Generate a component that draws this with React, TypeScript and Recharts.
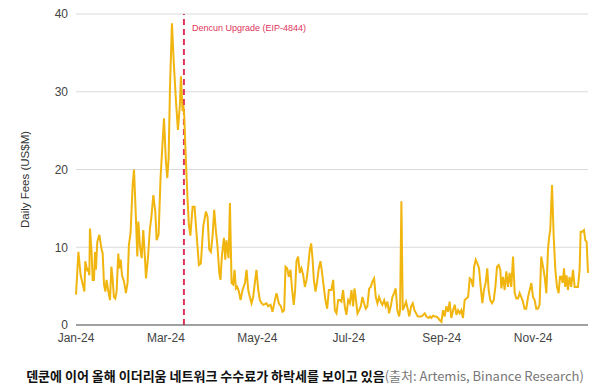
import React from 'react'
import { LineChart, Line, XAxis, YAxis, CartesianGrid, ReferenceLine } from 'recharts'

// day offset from 2024-01-01
const days = [
  0, 1.6, 3.1, 4.9, 5.6, 6.2, 7.6, 8.2, 8.9, 9.3, 10.4, 11.1, 12, 12.7, 13.3, 14.2, 15.6, 16.9, 17.8, 18.7,
  19.6, 20.4, 21.6, 22.7, 23.6, 24.4, 25.3, 26.2, 27.1, 28.2, 28.9, 29.8, 30.7, 32, 33.3, 34.4, 35.3, 36.4, 37.8, 38.7,
  40, 40.9, 41.6, 42.7, 43.8, 44.9, 46, 46.7, 48, 49.3, 50.2, 51.6, 52.9, 53.8, 55.1,
  56.4, 58.7, 60, 60.9, 61.8, 62.7, 64, 65.3, 66.7, 68, 69.3, 70, 71.1, 71.6, 72.2, 73.1, 73.8, 74.4, 75.3,
  76.3, 77.8, 79.1, 80.4, 82, 83.3, 84.9, 86.7, 87.8, 88.9, 90, 91.1, 92.2, 93.3, 94.4, 95.6, 96.4, 97.3, 98.7, 99.6,
  100.4, 101.8, 102.7, 103.8, 104.9, 105.8, 106.7, 107.6, 108.7, 109.8, 111.1, 112.7, 113.8, 114.9, 116, 117.1, 118.2, 119.3, 120.4, 121.6,
  122.7, 123.8, 124.9, 127.1, 128.2, 129.8, 131.1, 132.7, 133.8, 135.3,
  136.7, 137.8, 138.9, 139.8, 140.9, 142, 143.1, 144.2, 145.3, 146.2, 147.1, 148.2, 149.3, 150.4, 151.6, 152.7, 153.8, 154.9, 156, 156.9,
  157.8, 158.7, 159.8, 160.9, 162, 163.1, 164.2, 165.3, 166.4, 167.6, 168.7,
  170.4, 171.6, 172.7, 173.8, 174.9, 176, 177.1, 178.2, 179.3, 180.4, 181.6, 182.7, 183.8, 184.9, 185.8, 186.7, 187.8, 188.9, 190, 191.1,
  192.2, 193.3, 194.4, 195.6, 196.7, 197.8, 198.9, 200, 201.1, 202.2, 203.3, 204.4, 205.6, 206.7, 207.8, 208.9, 210, 211.1, 212.2, 213.3,
  214.4, 215.6, 216.2, 217.1, 218, 219.1, 220.2, 221.3, 222.4, 223.6, 224.7, 225.8, 226.9, 228, 229.1, 230.4, 231.6, 232.7, 233.8, 235.3,
  236.2, 237.1, 238.2, 239.3, 240.4, 241.6, 242.7, 243.8, 244.9, 246, 247.1, 248.2, 249.3, 250.4, 251.6, 252.7, 253.8, 254.9, 256, 257.1,
  258.2, 259.3, 260.4, 261.6, 262.7, 263.8, 264.9, 265.6, 266.7, 267.8, 268.9, 270, 271.1, 272.2, 273.3, 274.4, 275.3, 276.4, 277.6, 278.7,
  279.8, 280.9, 282, 283.1, 283.8, 284.9, 286,
  287.1, 288.2, 289.3, 290.4, 291.6, 292.7, 293.8, 294.9, 296, 297.1, 298.2, 299.3, 300.4, 301.6, 302.7, 303.8, 304.9, 306, 307.1, 308.2,
  309.3, 310.4, 311.6, 312.7, 313.8, 314.9, 315.6, 316.4, 317.6, 318.7, 319.8, 320.9, 322, 322.9, 323.8, 324.7, 325.6, 326.4, 327.3, 328.2,
  329.3, 330.4, 331.6, 332.7, 333.8, 334.9, 336, 336.7, 337.8, 338.9, 339.8, 340.7, 341.6,
]

// daily fees, US$M
const fees = [
  3.9, 9.4, 6.4, 4.9, 4.3, 8.2, 6.9, 7.3, 6.4, 12.4, 9.4, 5.8, 5.8, 9.4, 7.1, 10.7, 11.6, 9.9, 9.2, 5.2,
  4.3, 5.8, 4.3, 3.2, 7.5, 6.0, 3.6, 3.4, 4.3, 9.2, 7.3, 8.4, 6.4, 5.6, 4.1, 5.4, 10.3, 11.8, 18.0, 20.0,
  13.7, 8.8, 13.3, 10.1, 8.6, 12.2, 8.6, 6.0, 8.6, 12.4, 13.7, 16.7, 14.6, 10.9, 11.6,
  18.9, 26.6, 21, 18.9, 21.5, 30.5, 38.8, 33.5, 28.8, 25.1, 28.3, 32.0, 27.5, 28.3, 27, 22.3, 18.9, 16.3, 12.9,
  11.5, 15.2, 15.2, 11.8, 7.7, 7.9, 12.7, 14.6, 13.9, 9.7, 9.4, 11.4, 14.8, 12.2, 10.1, 6.7, 5.8, 8.8, 11.2, 8.4,
  10.9, 8.6, 15.7, 5.4, 5.2, 7.1, 4.7, 4.9, 4.3, 3.2, 4.5, 5.4, 7.1, 4.5, 3.6, 2.8, 3.6, 5.4, 7.1, 4.5,
  3.2, 2.8, 2.6, 2.8, 2.4, 2.6, 1.7, 3.2, 4.1, 2.8,
  2.4, 1.7, 1.9, 7.5, 7.3, 6.2, 7.1, 4.5, 2.6, 4.5, 8.2, 8.8, 6.7, 7.3, 6.4, 4.9, 5.8, 7.5, 9.7, 10.5,
  8.6, 5.8, 4.3, 5.6, 7.3, 8.2, 6.7, 4.9, 3.2, 2.1, 4.5,
  4.5, 5.8, 1.9, 1.5, 3.2, 3.2, 3.0, 4.5, 2.4, 1.3, 3.2, 2.8, 4.5, 2.4, 4.7, 3.4, 1.5, 1.9, 2.4, 3.6,
  2.8, 2.1, 2.4, 4.7, 4.9, 5.6, 6.0, 3.6, 2.8, 3.6, 3.0, 2.6, 3.2, 2.4, 3.0, 1.5, 2.4, 3.6, 4.1, 4.7,
  1.9, 1.1, 1.9, 15.9, 1.9, 2.4, 3.0, 2.1, 1.1, 2.4, 2.8, 1.9, 1.5, 1.1, 1.1, 1.1, 1.3, 1.5, 1.1, 0.9,
  1.1, 0.9, 1.2, 1.1, 1.1, 0.9, 0.6, 0.4, 1.9, 1.1, 2.4, 1.7, 3.0, 0.9, 1.9, 2.6, 1.3, 1.9, 1.5, 1.9,
  0.9, 3.2, 3.4, 3.6, 6.0, 5.8, 4.9, 7.5, 8.4, 7.9, 7.3, 4.9, 2.8, 4.5, 5.4, 7.3, 4.5, 3.2, 2.8, 3.2,
  4.9, 7.5, 7.7, 7.1, 4.7, 6.2, 4.5,
  6.9, 4.9, 6.7, 4.9, 8.8, 4.1, 3.4, 3.4, 4.1, 3.6, 3.0, 2.1, 2.1, 3.6, 4.5, 5.4, 3.6, 3.2, 2.1, 2.1,
  2.6, 8.8, 7.5, 6.2, 4.1, 9.7, 11.2, 12.2, 18.0, 11.4, 7.1, 4.9, 4.1, 6.2, 6.2, 5.4, 7.3, 4.9, 6.4, 4.5,
  6.2, 4.9, 7.1, 4.9, 4.9, 4.9, 7.1, 12.0, 12.0, 12.2, 10.9, 10.7, 6.7,
]

const monthTicks = [0, 60, 121, 182, 244, 305]
const monthLabels = ['Jan-24', 'Mar-24', 'May-24', 'Jul-24', 'Sep-24', 'Nov-24']
const feeTicks = [0, 10, 20, 30, 40]
const dencunDay = 72
const dencunText = 'Dencun Upgrade (EIP-4844)'

const data = days.map((d, i) => ({ day: d, fees: fees[i] }))

const axisFont = "'Liberation Sans', Arial, sans-serif"

function YTitle({ viewBox }: any) {
  const x = viewBox.x - 11
  const y = viewBox.y + viewBox.height / 2 + 10
  return (
    <text
      x={x}
      y={y}
      transform={`rotate(-90, ${x}, ${y})`}
      textAnchor="middle"
      dominantBaseline="central"
      fill="#333"
      fontSize={11.5}
      fontFamily={axisFont}
    >
      Daily Fees (US$M)
    </text>
  )
}

function DencunLabel({ viewBox }: any) {
  return (
    <text x={viewBox.x + 8} y={viewBox.y + 17} fill="#e0335c" fontSize={9} fontFamily={axisFont}>
      {dencunText}
    </text>
  )
}

export default function App() {
  return (
    <div style={{ position: 'absolute', left: 0, top: 0, width: 610, height: 392, background: '#fff' }}>
      <LineChart width={610} height={360} data={data} margin={{ top: 14, right: 22, bottom: 5, left: 36 }}>
        <CartesianGrid vertical={false} stroke="#dadada" />
        <XAxis
          type="number"
          dataKey="day"
          domain={[0, 341.6]}
          ticks={monthTicks}
          interval={0}
          tickFormatter={(v: number) => monthLabels[monthTicks.indexOf(v)]}
          tickLine={false}
          axisLine={{ stroke: '#555' }}
          tick={{ fill: '#444', fontSize: 12, fontFamily: axisFont }}
          height={30}
        />
        <YAxis
          domain={[0, 40]}
          ticks={feeTicks}
          width={40}
          axisLine={false}
          tickLine={false}
          tick={{ fill: '#444', fontSize: 12, fontFamily: axisFont }}
          label={<YTitle />}
        />
        <ReferenceLine
          x={dencunDay}
          stroke="#e0335c"
          strokeWidth={2}
          strokeDasharray="6 4"
          label={<DencunLabel />}
        />
        <Line
          type="linear"
          dataKey="fees"
          stroke="#f1b50f"
          strokeWidth={2}
          dot={false}
          isAnimationActive={false}
        />
      </LineChart>
      <div
        style={{
          position: 'absolute',
          left: 0,
          top: 367,
          width: 610,
          textAlign: 'center',
          fontFamily: "'Noto Sans CJK KR', 'Noto Sans', sans-serif",
          fontSize: 13,
          lineHeight: '18px',
          whiteSpace: 'nowrap',
        }}
      >
        <span style={{ fontWeight: 700, color: '#111' }}>덴쿤에 이어 올해 이더리움 네트워크 수수료가 하락세를 보이고 있음</span>
        <span style={{ color: '#777' }}>(출처: Artemis, Binance Research)</span>
      </div>
    </div>
  )
}
